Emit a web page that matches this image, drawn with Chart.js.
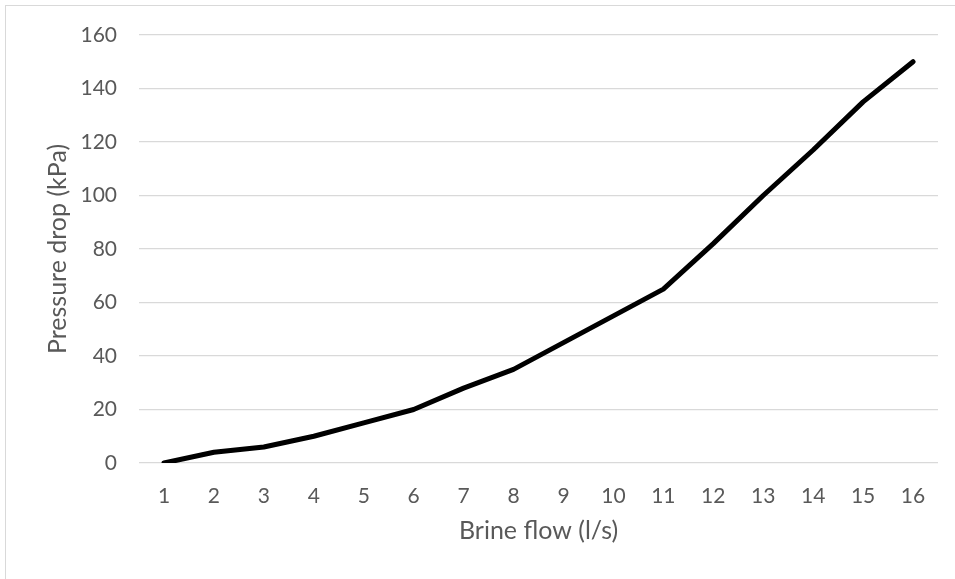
<!DOCTYPE html>
<html>
<head>
<meta charset="utf-8">
<script src="https://cdn.jsdelivr.net/npm/chart.js@4.4.1/dist/chart.umd.min.js"></script>
<style>
  html, body { margin: 0; padding: 0; background: #fff; }
  .wrap { position: relative; width: 955px; height: 579px; }
  .frame { position: absolute; left: 5px; top: 5px; width: 960px; height: 600px; border: 1px solid #d9d9d9; box-sizing: border-box; }
  canvas { position: absolute; left: 0; top: 0; }
</style>
</head>
<body>
<div class="wrap">
  <div class="frame"></div>
  <canvas id="LineChart" width="955" height="579"></canvas>
</div>
<script>
const flow = ['1','2','3','4','5','6','7','8','9','10','11','12','13','14','15','16'];
const pressureDrop = [0, 4, 6, 10, 15, 20, 28, 35, 45, 55, 65, 82, 100, 117, 135, 150];
const yTicks = [0, 20, 40, 60, 80, 100, 120, 140, 160];

const textColor = '#595959';
const fontFamily = 'Lato, "Open Sans", sans-serif';

const ctx = document.getElementById('LineChart');

new Chart(ctx, {
  type: 'line',
  data: {
    labels: flow,
    datasets: [{
      label: 'Pressure drop',
      data: pressureDrop,
      borderColor: '#000000',
      borderWidth: 5,
      borderCapStyle: 'round',
      borderJoinStyle: 'round',
      pointRadius: 0,
      tension: 0,
      fill: false
    }]
  },
  options: {
    responsive: false,
    animation: false,
    layout: { padding: { top: 35, right: 17, left: 0, bottom: 0 } },
    plugins: {
      legend: { display: false },
      tooltip: { enabled: false }
    },
    scales: {
      x: {
        offset: true,
        grid: { display: false, drawTicks: false },
        border: { display: false },
        ticks: { color: textColor, font: { family: fontFamily, size: 21 }, padding: 21, maxRotation: 0 },
        title: { display: true, text: 'Brine flow (l/s)', color: textColor, font: { family: fontFamily, size: 25 }, padding: { bottom: 33 } },
        afterFit: (scale) => { scale.height = 116; }
      },
      y: {
        min: yTicks[0],
        max: yTicks[yTicks.length - 1],
        afterBuildTicks: (scale) => { scale.ticks = yTicks.map(v => ({ value: v })); },
        grid: { color: '#d9d9d9', lineWidth: 1.3, drawTicks: false },
        border: { display: false },
        ticks: { color: textColor, font: { family: fontFamily, size: 21 }, padding: 22 },
        title: { display: true, text: 'Pressure drop (kPa)', color: textColor, font: { family: fontFamily, size: 25 }, padding: { top: 43 } },
        afterFit: (scale) => { scale.width = 139; }
      }
    }
  }
});
</script>
</body>
</html>
